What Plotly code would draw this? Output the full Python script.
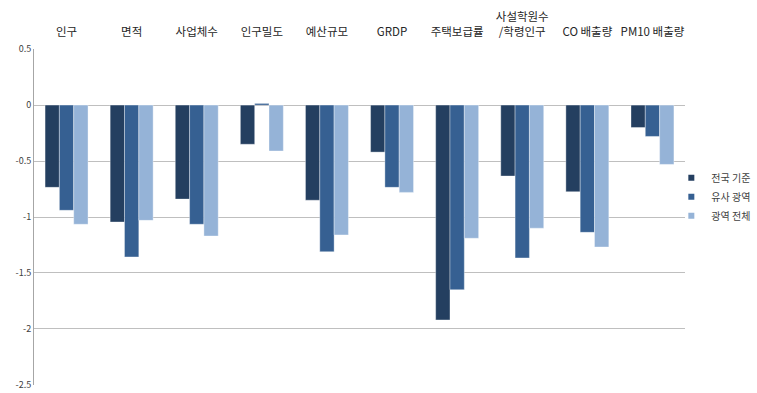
import plotly.graph_objects as go

categories = ["인구", "면적", "사업체수", "인구밀도", "예산규모", "GRDP", "주택보급률",
              "사설학원수<br>/학령인구", "CO 배출량", "PM10 배출량"]
series_names = ["전국 기준", "유사 광역", "광역 전체"]
national = [-0.735, -1.045, -0.84, -0.35, -0.85, -0.42, -1.92, -0.634, -0.774, -0.20]
similar = [-0.94, -1.357, -1.065, 0.015, -1.31, -0.735, -1.65, -1.366, -1.137, -0.28]
metro_all = [-1.065, -1.03, -1.17, -0.41, -1.16, -0.78, -1.19, -1.10, -1.268, -0.53]
y_tickvals = [0.5, 0, -0.5, -1, -1.5, -2, -2.5]
y_ticktext = ["0.5", "0", "-0.5", "-1", "-1.5", "-2", "-2.5"]

colors = ["#243F60", "#366092", "#95B3D7"]
values = [national, similar, metro_all]

fig = go.Figure()
for name, vals, col in zip(series_names, values, colors):
    fig.add_trace(go.Bar(
        x=categories, y=vals, name=name,
        marker=dict(color=col, line=dict(width=0.6, color="rgba(255,255,255,0.6)")),
        showlegend=False,
    ))
    fig.add_trace(go.Scatter(
        x=[None], y=[None], mode="markers", name=name,
        marker=dict(symbol="square", size=6, color=col),
    ))

font_family = "Noto Sans CJK KR, Noto Sans, sans-serif"
fig.update_layout(
    width=757, height=393,
    margin=dict(l=34, r=72, t=49, b=8, autoexpand=False),
    paper_bgcolor="white", plot_bgcolor="white",
    barmode="group", bargap=0.34, bargroupgap=0,
    font=dict(family=font_family, color="#404040"),
    legend=dict(x=0.979, y=0.56, xanchor="left", yanchor="middle",
                bgcolor="rgba(0,0,0,0)", font=dict(size=10, color="#404040"),
                itemwidth=30, tracegroupgap=0),
    xaxis=dict(side="top", showline=False, showgrid=False, ticks="",
               tickfont=dict(size=11.5, color="#262626"), fixedrange=True,
               automargin=False, ticklabelstandoff=10),
    yaxis=dict(range=[-2.5015, 0.5015], tickvals=y_tickvals, ticktext=y_ticktext,
               showgrid=True, gridcolor="#BFBFBF", gridwidth=1,
               zeroline=False, showline=True, linecolor="#A6A6A6", linewidth=1,
               tickfont=dict(size=9, color="#404040"), ticks="",
               automargin=False),
)

fig.write_html("out.html", config={"displayModeBar": False},
               post_script="document.body.style.margin='0';document.body.style.overflow='hidden';")
